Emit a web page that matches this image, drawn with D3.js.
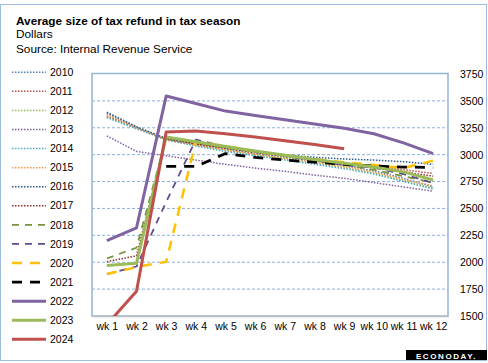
<!DOCTYPE html>
<html lang="en">
<head>
    <meta charset="UTF-8">
    <script src="https://cdn.jsdelivr.net/npm/d3@7"></script>
    <title>Tax refund</title>
    <style>
        body { margin: 0; background: white; }
        text { font-family: Tahoma, "Liberation Sans", Arial, sans-serif; fill: #000; }
    </style>
</head>
<body>
    <div id="chart"></div>
    <script>
        const width = 488;
        const height = 363;

        // data
        const weeks = ["wk 1", "wk 2", "wk 3", "wk 4", "wk 5", "wk 6", "wk 7", "wk 8", "wk 9", "wk 10", "wk 11", "wk 12"];
        const yTicks = [1500, 1750, 2000, 2250, 2500, 2750, 3000, 3250, 3500, 3750];

        const r2010 = [3385, 3255, 3145, 3095, 3050, 3010, 2975, 2940, 2900, 2850, 2780, 2700];
        const r2011 = [3360, 3250, 3140, 3100, 3060, 3025, 2990, 2955, 2920, 2890, 2860, 2825];
        const r2012 = [3350, 3245, 3135, 3085, 3040, 3000, 2960, 2920, 2880, 2830, 2760, 2690];
        const r2013 = [3175, 3030, 2990, 2950, 2910, 2875, 2845, 2810, 2780, 2740, 2700, 2660];
        const r2014 = [3345, 3240, 3140, 3080, 3030, 2990, 2950, 2910, 2870, 2820, 2750, 2680];
        const r2015 = [3375, 3250, 3145, 3090, 3045, 3005, 2965, 2930, 2890, 2840, 2770, 2710];
        const r2016 = [3395, 3260, 3150, 3105, 3065, 3030, 3000, 2975, 2960, 2950, 2935, 2910];
        const r2017 = [2005, 2060, 3150, 3100, 3060, 3020, 2985, 2950, 2915, 2880, 2840, 2800];
        const r2018 = [2035, 2135, 3155, 3110, 3065, 3025, 2985, 2945, 2905, 2860, 2800, 2740];
        const r2019 = [1890, 1960, 2560, 3140, 3075, 3030, 2990, 2945, 2905, 2880, 2820, 2735];
        const r2020 = [1890, 1955, 2005, 3120, 3080, 3030, 2995, 2960, 2930, 2905, 2875, 2945];
        const r2021 = [null, null, 2890, 2890, 3010, 2975, 2950, 2930, 2910, 2895, 2885, 2880];
        const r2022 = [2200, 2320, 3545, 3475, 3405, 3365, 3325, 3285, 3245, 3195, 3110, 3010];
        const r2023 = [1970, 1990, 3165, 3120, 3075, 3035, 2995, 2955, 2920, 2885, 2840, 2765];
        const r2024 = [1420, 1730, 3210, 3220, 3195, 3165, 3130, 3095, 3055, null, null, null];

        const years = ["2010", "2011", "2012", "2013", "2014", "2015", "2016", "2017",
                       "2018", "2019", "2020", "2021", "2022", "2023", "2024"];
        const values = [r2010, r2011, r2012, r2013, r2014, r2015, r2016, r2017,
                        r2018, r2019, r2020, r2021, r2022, r2023, r2024];

        // line looks per year
        const dot = "1.5,1.5";
        const styles = {
            "2010": { color: "#4F81BD", w: 1.5, dash: dot },
            "2011": { color: "#C0504D", w: 1.5, dash: dot },
            "2012": { color: "#9BBB59", w: 1.5, dash: dot },
            "2013": { color: "#8064A2", w: 1.5, dash: dot },
            "2014": { color: "#4BACC6", w: 1.5, dash: dot },
            "2015": { color: "#F79646", w: 1.5, dash: dot },
            "2016": { color: "#2C5A8C", w: 1.5, dash: dot },
            "2017": { color: "#8B2D2A", w: 1.5, dash: dot },
            "2018": { color: "#77933C", w: 1.75, dash: "7,6" },
            "2019": { color: "#5F4A8B", w: 1.75, dash: "7,6" },
            "2020": { color: "#FFC000", w: 2.5, dash: "10,8" },
            "2021": { color: "#000000", w: 2.75, dash: "10,8" },
            "2022": { color: "#8064A2", w: 3, dash: null },
            "2023": { color: "#9BBB59", w: 3, dash: null },
            "2024": { color: "#C0504D", w: 3, dash: null }
        };

        const plot = { left: 92, right: 448, top: 73.5, bottom: 316 };

        const svg = d3.select("#chart").append("svg")
            .attr("width", width)
            .attr("height", height);

        svg.append("rect")
            .attr("x", 0.5).attr("y", 4.5)
            .attr("width", 486).attr("height", 356)
            .attr("fill", "white")
            .attr("stroke", "#9DBCE0");

        // titles
        svg.append("text").attr("x", 16).attr("y", 25)
            .style("font-size", "11.8px").style("font-weight", "bold")
            .text("Average size of tax refund in tax season");
        svg.append("text").attr("x", 16).attr("y", 37.5)
            .style("font-size", "11.8px")
            .text("Dollars");
        svg.append("text").attr("x", 16).attr("y", 52.5)
            .style("font-size", "11.8px")
            .text("Source:  Internal Revenue Service");

        const x = d3.scalePoint().domain(weeks).range([plot.left, plot.right]).padding(0.5);
        const y = d3.scaleLinear().domain([1500, 3750]).range([plot.bottom, 74]);

        // grid
        svg.append("g")
            .selectAll("line")
            .data(yTicks.filter(t => t > 1500 && t < 3750))
            .join("line")
            .attr("x1", plot.left).attr("x2", plot.right)
            .attr("y1", d => y(d)).attr("y2", d => y(d))
            .attr("stroke", "#8DB0DE")
            .attr("stroke-width", 1)
            .attr("stroke-dasharray", "3,2");

        // plot frame
        svg.append("rect")
            .attr("x", plot.left).attr("y", plot.top)
            .attr("width", plot.right - plot.left).attr("height", plot.bottom - plot.top)
            .attr("fill", "none")
            .attr("stroke", "#95B3D7")
            .attr("stroke-width", 1.5);

        // right axis
        const yAxis = d3.axisRight(y).tickValues(yTicks).tickFormat(d3.format("d")).tickSize(0).tickPadding(12);
        const yg = svg.append("g").attr("transform", `translate(${plot.right},0)`).call(yAxis);
        yg.select(".domain").remove();
        yg.selectAll("text").style("font-size", "10.5px").attr("fill", "#000");

        // bottom axis
        const xAxis = d3.axisBottom(x).tickSize(0).tickPadding(7);
        const xg = svg.append("g").attr("transform", `translate(0,${plot.bottom})`).call(xAxis);
        xg.select(".domain").attr("stroke", "#BFBFBF").attr("stroke-width", 1.5);
        xg.selectAll("text").style("font-size", "10.5px").attr("fill", "#000");

        svg.append("clipPath").attr("id", "clip")
            .append("rect")
            .attr("x", plot.left).attr("y", plot.top)
            .attr("width", plot.right - plot.left).attr("height", plot.bottom - plot.top);

        const line = d3.line()
            .defined(d => d != null)
            .x((d, i) => x(weeks[i]))
            .y(d => y(d));

        const series = years.map((yr, i) => ({ year: yr, vals: values[i], style: styles[yr] }));

        svg.append("g").attr("clip-path", "url(#clip)")
            .selectAll("path")
            .data(series)
            .join("path")
            .attr("d", d => line(d.vals))
            .attr("fill", "none")
            .attr("stroke", d => d.style.color)
            .attr("stroke-width", d => d.style.w)
            .attr("stroke-dasharray", d => d.style.dash)
            .attr("stroke-linejoin", "round");

        // legend
        const legend = svg.append("g")
            .selectAll("g")
            .data(series)
            .join("g")
            .attr("transform", (d, i) => `translate(12,${72.3 + i * 19.07})`);
        legend.append("line")
            .attr("x1", 0).attr("x2", 34)
            .attr("stroke", d => d.style.color)
            .attr("stroke-width", d => d.style.w)
            .attr("stroke-dasharray", d => d.style.dash);
        legend.append("text")
            .attr("x", 38).attr("dy", "0.35em")
            .style("font-size", "10.5px")
            .text(d => d.year);

        // econoday badge
        svg.append("rect")
            .attr("x", 406).attr("y", 350)
            .attr("width", 81).attr("height", 10)
            .attr("fill", "#000");
        svg.append("text")
            .attr("x", 446.5).attr("y", 358.5)
            .attr("text-anchor", "middle")
            .style("font-size", "8px").style("font-weight", "bold")
            .style("letter-spacing", "1.6px")
            .style("fill", "#fff")
            .text("ECONODAY.");
    </script>
</body>
</html>
